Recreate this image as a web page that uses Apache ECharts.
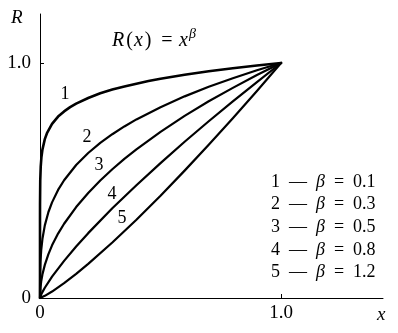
<!DOCTYPE html>
<html><head><meta charset="utf-8">
<script src="https://cdn.jsdelivr.net/npm/echarts@6/dist/echarts.min.js"></script>
<style>html,body{margin:0;padding:0;background:#fff}#c{width:398px;height:333px}</style>
</head><body><div id="c"></div>
<script>
// Values (R = x^beta curves)
const x1 = [0, 0.00001, 0.0001, 0.001, 0.003, 0.006, 0.01, 0.02, 0.03, 0.05, 0.075, 0.1, 0.125, 0.15, 0.2, 0.25, 0.3, 0.35, 0.4, 0.45, 0.5, 0.6, 0.7, 0.8, 0.9, 1.0];
const r1 = [0, 0.32, 0.40, 0.50, 0.559, 0.60, 0.631, 0.676, 0.704, 0.741, 0.772, 0.794, 0.812, 0.827, 0.851, 0.871, 0.887, 0.900, 0.912, 0.923, 0.933, 0.950, 0.965, 0.978, 0.9895, 1.0];
const x2 = [0, 0.0005, 0.002, 0.005, 0.01, 0.02, 0.035, 0.05, 0.075, 0.1, 0.15, 0.2, 0.25, 0.3, 0.35, 0.4, 0.5, 0.6, 0.7, 0.8, 0.9, 1.0];
const r2 = [0, 0.10, 0.155, 0.204, 0.251, 0.309, 0.366, 0.407, 0.46, 0.501, 0.566, 0.617, 0.66, 0.697, 0.73, 0.76, 0.812, 0.858, 0.899, 0.935, 0.969, 1.0];
const x3 = [0, 0.002, 0.005, 0.01, 0.02, 0.035, 0.05, 0.075, 0.1, 0.15, 0.2, 0.25, 0.3, 0.35, 0.4, 0.5, 0.6, 0.7, 0.8, 0.9, 1.0];
const r3 = [0, 0.045, 0.071, 0.10, 0.141, 0.187, 0.224, 0.274, 0.316, 0.387, 0.447, 0.50, 0.548, 0.592, 0.632, 0.707, 0.775, 0.837, 0.894, 0.949, 1.0];
const x4 = [0, 0.005, 0.01, 0.02, 0.05, 0.1, 0.15, 0.2, 0.3, 0.4, 0.5, 0.6, 0.7, 0.8, 0.9, 1.0];
const r4 = [0, 0.0144, 0.0251, 0.0437, 0.091, 0.158, 0.219, 0.276, 0.382, 0.48, 0.574, 0.665, 0.752, 0.837, 0.919, 1.0];
const x5 = [0, 0.02, 0.05, 0.1, 0.15, 0.2, 0.3, 0.4, 0.5, 0.6, 0.7, 0.8, 0.9, 1.0];
const r5 = [0, 0.0091, 0.0275, 0.0631, 0.1026, 0.145, 0.236, 0.333, 0.435, 0.542, 0.652, 0.765, 0.881, 1.0];
const curveNames = ['1', '2', '3', '4', '5'];
const betas = ['0.1', '0.3', '0.5', '0.8', '1.2'];
const xTickValues = [0, 1];
const yTickValues = [0, 1];

const FONT = 'Liberation Serif';
const chart = echarts.init(document.getElementById('c'), null, {renderer: 'canvas'});
const xs = [x1, x2, x3, x4, x5], rs = [r1, r2, r3, r4, r5];
const series = xs.map((xv, i) => ({
  type: 'line', name: curveNames[i], smooth: false, symbol: 'none',
  lineStyle: {color: '#000', width: i === 0 ? 2.6 : 2.2, join: 'round', cap: 'round'},
  data: xv.map((v, j) => [v, rs[i][j]])
}));
const curveLabelPos = [[65, 94], [87, 137], [99, 165], [112, 194], [122, 218]];
const legendY = [182, 204, 227, 250, 272];
const graphic = [];
curveNames.forEach((n, i) => {
  graphic.push({type: 'text', x: curveLabelPos[i][0], y: curveLabelPos[i][1],
    style: {text: n, font: '18px "' + FONT + '"', fill: '#000', align: 'center', verticalAlign: 'middle'}});
  graphic.push({type: 'text', x: 271, y: legendY[i],
    style: {text: '{n|' + n + '  —  }{b|β}{n|  =  ' + betas[i] + '}',
      fill: '#000', verticalAlign: 'middle', align: 'left',
      rich: {n: {fontFamily: FONT, fontSize: 18, fill: '#000'}, b: {fontFamily: FONT, fontSize: 18, fontStyle: 'italic', fill: '#000'}}}});
});
graphic.push({type: 'text', x: 11, y: 18, style: {text: 'R', font: 'italic 19px "' + FONT + '"', fill: '#000', align: 'left', verticalAlign: 'middle'}});
graphic.push({type: 'text', x: 377, y: 315, style: {text: 'x', font: 'italic 19px "' + FONT + '"', fill: '#000', align: 'left', verticalAlign: 'middle'}});
const tI = {fontFamily: FONT, fontSize: 20, fontStyle: 'italic', fill: '#000'};
const tN = {fontFamily: FONT, fontSize: 20, fill: '#000'};
graphic.push({type: 'text', x: 112, y: 41, style: {text: '{r|R}{p|(}{x|x}{q|)}',
  verticalAlign: 'middle', align: 'left', fill: '#000',
  rich: {r: Object.assign({padding: [0, 2, 0, 0]}, tI), p: Object.assign({padding: [0, 1, 0, 0]}, tN),
         x: Object.assign({padding: [0, 2, 0, 0]}, tI), q: tN}}});
graphic.push({type: 'text', x: 167, y: 41, style: {text: '=', font: '20px "' + FONT + '"', fill: '#000', align: 'center', verticalAlign: 'middle'}});
graphic.push({type: 'text', x: 179, y: 41, style: {text: 'x', font: 'italic 20px "' + FONT + '"', fill: '#000', align: 'left', verticalAlign: 'middle'}});
graphic.push({type: 'text', x: 189, y: 34, style: {text: 'β', font: 'italic 14px "' + FONT + '"', fill: '#000', align: 'left', verticalAlign: 'middle'}});

chart.setOption({
  animation: false,
  backgroundColor: '#fff',
  grid: {left: 40, top: 14, right: 15, bottom: 35, containLabel: false},
  xAxis: {type: 'value', min: 0, max: 1.423,
    axisLine: {lineStyle: {color: '#000', width: 1}},
    axisTick: {inside: true, length: 4, lineStyle: {color: '#000'}, customValues: [1]},
    axisLabel: {customValues: xTickValues, formatter: v => v === 0 ? '0' : v.toFixed(1),
      fontFamily: FONT, fontSize: 19, color: '#000', margin: 6},
    splitLine: {show: false}},
  yAxis: {type: 'value', min: 0, max: 1.2085,
    axisLine: {show: true, lineStyle: {color: '#000', width: 1}},
    axisTick: {show: true, inside: true, length: 4, lineStyle: {color: '#000'}, customValues: [1]},
    axisLabel: {customValues: yTickValues, formatter: v => v === 0 ? '0' : v.toFixed(1),
      fontFamily: FONT, fontSize: 19, color: '#000', margin: 9},
    splitLine: {show: false}},
  series: series,
  graphic: graphic
});
</script></body></html>
